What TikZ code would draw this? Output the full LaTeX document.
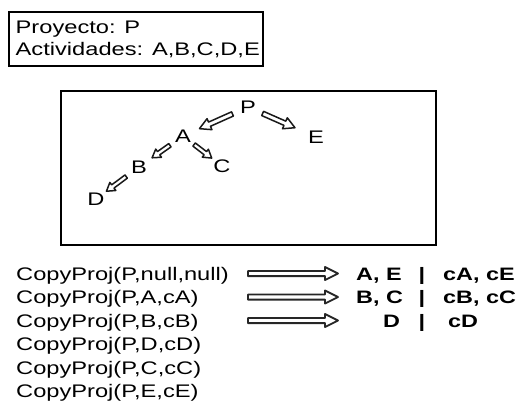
\documentclass[tikz,border=0pt]{standalone}
\usepackage{fontspec}
\setmainfont{Liberation Sans}
\usetikzlibrary{calc}
\newcommand\sx[1]{\scalebox{1.30}[1]{#1}}
% #1 from, #2 to, #3 start gap, #4 end gap, #5 half shaft, #6 half head, #7 head length, #8 style
\newcommand\blockarr[8]{%
  \coordinate (bs) at ($(#1)!#3!(#2)$);
  \coordinate (be) at ($(#2)!#4!(#1)$);
  \coordinate (bm) at ($(be)!#7!(bs)$);
  \draw[#8] ($(bs)!#5!90:(be)$) -- ($(bm)!#5!90:(be)$) -- ($(bm)!#6!90:(be)$)
    -- (be) -- ($(bm)!#6!-90:(be)$) -- ($(bm)!#5!-90:(be)$)
    -- ($(bs)!#5!-90:(be)$) -- cycle;}
\begin{document}
\begin{tikzpicture}[x=1pt,y=-1pt,
  txt/.style={font=\fontsize{18.2}{22}\selectfont, inner sep=0pt},
  boldtxt/.style={font=\fontsize{18}{22}\selectfont\bfseries, inner sep=0pt},
  treearr/.style={draw=black!90, line width=1.5pt, fill=white, line join=round},
  bigarr/.style={draw=black!85, line width=1.8pt, fill=white, line join=round}]
\useasboundingbox (0,0) rectangle (519,410);
% header box
\draw[line width=1.2pt] (9,12) rectangle (263,66);
\node[txt, anchor=base west] (proy) at (15.5,33) {\sx{Proyecto: P}};
\node[txt, anchor=base west] (act) at (15.5,55) {\sx{Actividades: A,B,C,D,E}};
% tree box
\draw[line width=1.8pt] (61,91) rectangle (436,245);
\node[txt] (P) at (248,107) {\sx{P}};
\node[txt] (E) at (316,137) {\sx{E}};
\node[txt] (A) at (183,136) {\sx{A}};
\node[txt] (C) at (222,166) {\sx{C}};
\node[txt] (B) at (139,167) {\sx{B}};
\node[txt] (D) at (96,199) {\sx{D}};
\blockarr{P}{A}{17pt}{18pt}{2.3pt}{6pt}{11pt}{treearr}
\blockarr{P}{E}{16pt}{23pt}{2.3pt}{6pt}{11pt}{treearr}
\blockarr{A}{B}{16pt}{16pt}{2pt}{5pt}{8pt}{treearr}
\blockarr{A}{C}{14pt}{13pt}{2pt}{5pt}{8pt}{treearr}
\blockarr{B}{D}{16pt}{13pt}{2pt}{5pt}{8pt}{treearr}
% calls
\node[txt, anchor=base west] (c1) at (16,280) {\sx{CopyProj(P,null,null)}};
\node[txt, anchor=base west] (c2) at (16,303.5) {\sx{CopyProj(P,A,cA)}};
\node[txt, anchor=base west] (c3) at (16,327) {\sx{CopyProj(P,B,cB)}};
\node[txt, anchor=base west] (c4) at (16,350.5) {\sx{CopyProj(P,D,cD)}};
\node[txt, anchor=base west] (c5) at (16,374) {\sx{CopyProj(P,C,cC)}};
\node[txt, anchor=base west] (c6) at (16,397.5) {\sx{CopyProj(P,E,cE)}};
% results
\node[boldtxt, anchor=base west] (r1) at (356,280) {\sx{A, E}};
\node[boldtxt, anchor=base] (b1) at (422,280) {\sx{|}};
\node[boldtxt, anchor=base west] (s1) at (443,280) {\sx{cA, cE}};
\node[boldtxt, anchor=base west] (r2) at (356,303.5) {\sx{B, C}};
\node[boldtxt, anchor=base] (b2) at (422,303.5) {\sx{|}};
\node[boldtxt, anchor=base west] (s2) at (443,303.5) {\sx{cB, cC}};
\node[boldtxt, anchor=base west] (r3) at (383,327) {\sx{D}};
\node[boldtxt, anchor=base] (b3) at (422,327) {\sx{|}};
\node[boldtxt, anchor=base west] (s3) at (448,327) {\sx{cD}};
% big arrows
\coordinate (a1s) at (248,273.5); \coordinate (a1e) at (338,273.5);
\coordinate (a2s) at (248,297);   \coordinate (a2e) at (338,297);
\coordinate (a3s) at (248,320.5); \coordinate (a3e) at (338,320.5);
\blockarr{a1s}{a1e}{0pt}{0pt}{2.6pt}{6.5pt}{13pt}{bigarr}
\blockarr{a2s}{a2e}{0pt}{0pt}{2.6pt}{6.5pt}{13pt}{bigarr}
\blockarr{a3s}{a3e}{0pt}{0pt}{2.6pt}{6.5pt}{13pt}{bigarr}
\end{tikzpicture}
\end{document}
